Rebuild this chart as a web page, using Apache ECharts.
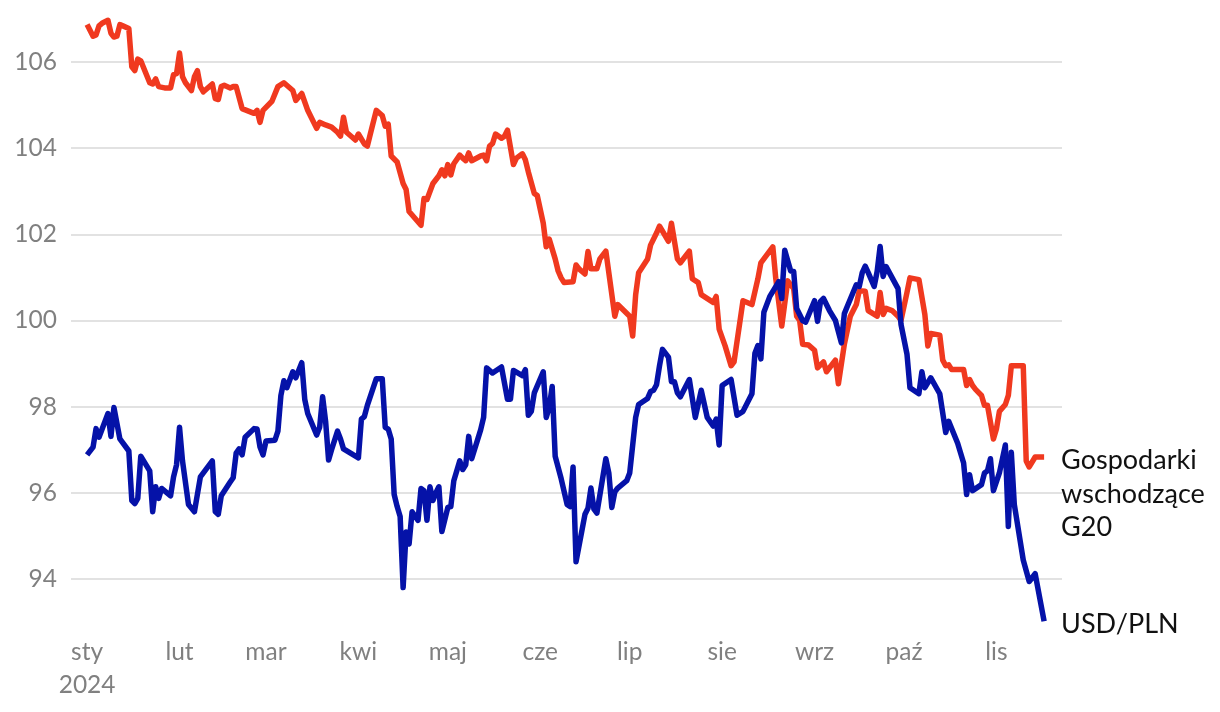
<!DOCTYPE html>
<html>
<head>
<meta charset="utf-8">
<script src="https://cdn.jsdelivr.net/npm/echarts@6/dist/echarts.min.js"></script>
<style>
  html, body { margin: 0; padding: 0; background: #fff; }
  #chart { width: 1220px; height: 712px; }
</style>
</head>
<body>
<div id="chart"></div>
<script>
// dni liczone od 1 stycznia 2024
var monthStarts = [0, 31, 60, 91, 121, 152, 182, 213, 244, 274, 305];
var monthNames = ['sty\n2024', 'lut', 'mar', 'kwi', 'maj', 'cze', 'lip', 'sie', 'wrz', 'paź', 'lis'];
var yTicks = [94, 96, 98, 100, 102, 104, 106];

// Gospodarki wschodzące G20
var emDays = [0, 2, 3, 4, 5, 7, 8, 9, 10, 11, 12, 14, 15, 16, 17, 18, 21, 22, 23, 24, 26, 28, 29, 30, 31, 32, 33, 35, 36, 37, 38, 39, 42, 43, 44, 45, 46, 48, 49, 50, 52, 56, 57, 58, 59, 62, 64, 66, 69, 70, 72, 74, 77, 78, 80, 82, 84, 85, 86, 87, 90, 91, 93, 94, 95, 97, 99, 100, 101, 102, 104, 106, 107, 108, 112, 113, 114, 116, 118, 119, 120, 121, 122, 123, 125, 126, 127, 128, 129, 132, 133, 134, 135, 136, 137, 139, 140, 141, 143, 144, 146, 147, 148, 150, 151, 153, 154, 155, 157, 158, 159, 160, 163, 164, 165, 167, 168, 169, 171, 172, 174, 177, 178, 182, 183, 184, 185, 188, 189, 191, 192, 195, 196, 198, 199, 202, 203, 205, 206, 210, 211, 212, 214, 216, 217, 220, 223, 225, 226, 230, 231, 233, 235, 237, 238, 239, 240, 242, 244, 245, 247, 248, 251, 252, 254, 256, 258, 259, 261, 262, 265, 266, 267, 268, 270, 272, 273, 275, 276, 279, 281, 282, 283, 286, 287, 288, 289, 290, 294, 295, 296, 297, 298, 300, 301, 302, 304, 305, 306, 308, 309, 310, 314, 315, 316, 318, 321];
var emValues = [106.87, 106.60, 106.63, 106.84, 106.90, 106.97, 106.67, 106.58, 106.60, 106.87, 106.84, 106.78, 105.89, 105.80, 106.07, 106.03, 105.52, 105.49, 105.61, 105.43, 105.40, 105.40, 105.71, 105.73, 106.21, 105.66, 105.52, 105.34, 105.66, 105.80, 105.43, 105.31, 105.49, 105.15, 105.13, 105.43, 105.46, 105.40, 105.43, 105.43, 104.92, 104.81, 104.88, 104.60, 104.88, 105.09, 105.43, 105.52, 105.34, 105.11, 105.27, 104.88, 104.46, 104.60, 104.54, 104.49, 104.37, 104.28, 104.72, 104.37, 104.19, 104.33, 104.10, 104.05, 104.33, 104.88, 104.76, 104.51, 104.56, 103.82, 103.68, 103.18, 103.04, 102.53, 102.21, 102.83, 102.81, 103.18, 103.36, 103.50, 103.36, 103.62, 103.38, 103.64, 103.84, 103.77, 103.71, 103.89, 103.71, 103.82, 103.84, 103.71, 104.05, 104.11, 104.33, 104.23, 104.28, 104.42, 103.62, 103.77, 103.87, 103.73, 103.45, 102.95, 102.90, 102.26, 101.71, 101.89, 101.43, 101.15, 100.99, 100.88, 100.90, 101.29, 101.20, 101.08, 101.60, 101.20, 101.20, 101.43, 101.61, 100.10, 100.37, 100.10, 99.64, 100.60, 101.11, 101.43, 101.75, 102.03, 102.19, 101.84, 102.26, 101.43, 101.34, 101.61, 100.97, 100.88, 100.60, 100.42, 100.56, 99.80, 99.41, 98.95, 99.04, 100.46, 100.37, 100.97, 101.34, 101.71, 100.97, 99.87, 100.92, 100.74, 100.10, 100.00, 99.45, 99.43, 99.31, 98.90, 99.04, 98.81, 99.08, 98.53, 99.45, 100.10, 100.37, 100.69, 100.68, 100.23, 100.10, 100.65, 100.14, 100.28, 100.23, 100.10, 100.00, 100.65, 100.99, 100.95, 100.14, 99.41, 99.70, 99.66, 99.08, 98.95, 98.97, 98.86, 98.86, 98.49, 98.63, 98.49, 98.40, 98.26, 98.03, 98.03, 97.25, 97.48, 97.89, 98.05, 98.26, 98.95, 98.95, 96.74, 96.60, 96.83, 96.83];

// USD/PLN
var usdDays = [0, 2, 3, 4, 7, 8, 9, 11, 14, 15, 16, 17, 18, 21, 22, 23, 24, 25, 28, 29, 30, 31, 32, 34, 36, 38, 42, 43, 44, 45, 48, 49, 50, 51, 52, 53, 56, 57, 58, 59, 60, 63, 64, 65, 66, 67, 69, 70, 72, 73, 74, 77, 78, 79, 80, 81, 82, 84, 85, 86, 91, 92, 93, 94, 97, 99, 100, 101, 102, 103, 104, 105, 106, 107, 108, 109, 111, 112, 113, 114, 115, 116, 117, 118, 119, 121, 122, 123, 125, 126, 127, 128, 129, 132, 133, 134, 136, 139, 141, 142, 143, 146, 147, 148, 149, 150, 153, 154, 155, 156, 157, 159, 161, 162, 163, 164, 167, 168, 169, 170, 171, 174, 175, 176, 177, 178, 181, 182, 184, 185, 188, 189, 190, 191, 192, 193, 195, 196, 197, 198, 199, 202, 204, 206, 208, 210, 211, 212, 213, 216, 218, 220, 223, 224, 225, 226, 227, 229, 232, 233, 234, 236, 237, 238, 240, 241, 244, 245, 246, 247, 249, 251, 253, 254, 255, 258, 259, 260, 261, 262, 264, 265, 266, 267, 268, 272, 273, 275, 276, 279, 280, 281, 283, 286, 288, 289, 292, 294, 295, 296, 297, 300, 301, 302, 303, 304, 306, 308, 309, 310, 311, 314, 316, 318, 321];
var usdValues = [96.88, 97.06, 97.49, 97.29, 97.84, 97.31, 97.98, 97.25, 96.97, 95.82, 95.75, 95.87, 96.85, 96.51, 95.56, 96.14, 95.87, 96.10, 95.93, 96.37, 96.65, 97.52, 96.74, 95.73, 95.56, 96.37, 96.74, 95.56, 95.50, 95.93, 96.25, 96.35, 96.92, 97.02, 96.88, 97.29, 97.49, 97.48, 97.06, 96.88, 97.20, 97.22, 97.43, 98.26, 98.60, 98.44, 98.81, 98.67, 99.02, 98.17, 97.84, 97.34, 97.52, 98.23, 97.66, 96.76, 97.00, 97.43, 97.25, 97.02, 96.81, 97.71, 97.77, 98.03, 98.65, 98.65, 97.52, 97.48, 97.25, 95.96, 95.68, 95.45, 93.80, 95.09, 94.81, 95.56, 95.36, 96.10, 96.05, 95.36, 96.14, 95.82, 96.00, 96.14, 95.10, 95.66, 95.68, 96.28, 96.74, 96.54, 96.65, 97.31, 96.79, 97.46, 97.75, 98.90, 98.78, 98.92, 98.17, 98.17, 98.84, 98.72, 98.86, 97.80, 97.89, 98.32, 98.81, 97.75, 97.98, 98.47, 96.85, 96.33, 95.73, 95.68, 96.60, 94.40, 95.50, 95.64, 96.11, 95.62, 95.53, 96.79, 96.46, 95.66, 96.02, 96.11, 96.28, 96.46, 97.75, 98.05, 98.19, 98.35, 98.38, 98.51, 98.95, 99.33, 99.15, 98.58, 98.58, 98.32, 98.23, 98.63, 97.75, 98.38, 97.75, 97.55, 97.71, 97.11, 98.49, 98.63, 97.80, 97.89, 98.30, 99.24, 99.42, 99.11, 100.19, 100.56, 100.90, 100.51, 101.63, 101.15, 101.14, 100.28, 100.00, 99.96, 100.46, 99.98, 100.44, 100.51, 100.23, 100.00, 99.48, 100.16, 100.33, 100.83, 100.79, 101.11, 101.26, 101.11, 100.79, 101.14, 101.72, 101.02, 101.25, 100.74, 99.91, 99.22, 98.44, 98.30, 98.81, 98.44, 98.67, 98.30, 97.40, 97.66, 97.15, 96.69, 95.96, 96.42, 96.05, 96.19, 96.46, 96.51, 96.79, 96.05, 96.46, 97.11, 95.22, 96.94, 95.73, 94.44, 93.94, 94.12, 93.02];

function pairs(days, values) {
  return days.map(function (d, i) { return [d, values[i]]; });
}

var chart = echarts.init(document.getElementById('chart'));
var labelFont = 'Lato, "Noto Sans", sans-serif';

chart.setOption({
  animation: false,
  backgroundColor: '#ffffff',
  grid: {
    left: 71,
    right: 158,
    top: 19,
    bottom: 90
  },
  xAxis: {
    type: 'value',
    min: -5.4,
    max: 327,
    axisLine: { show: false },
    axisTick: { show: false },
    splitLine: { show: false },
    axisLabel: {
      customValues: monthStarts,
      formatter: function (val) {
        var i = monthStarts.indexOf(val);
        return i >= 0 ? monthNames[i] : '';
      },
      color: '#808080',
      fontFamily: labelFont,
      fontSize: 24.5,
      lineHeight: 33,
      margin: 14
    }
  },
  yAxis: {
    type: 'value',
    min: 93,
    max: 107,
    axisLine: { show: false },
    axisTick: { show: false, customValues: yTicks },
    axisLabel: {
      customValues: yTicks,
      color: '#808080',
      fontFamily: labelFont,
      fontSize: 24.5,
      margin: 14
    },
    splitLine: {
      show: true,
      lineStyle: { color: '#e2e2e2', width: 2 }
    }
  },
  series: [
    {
      name: 'Gospodarki wschodzące G20',
      type: 'line',
      data: pairs(emDays, emValues),
      showSymbol: false,
      lineStyle: { color: '#f0391f', width: 5.5, join: 'round' },
      itemStyle: { color: '#f0391f' },
      endLabel: {
        show: true,
        formatter: 'Gospodarki\nwschodzące\nG20',
        color: '#111111',
        fontFamily: labelFont,
        fontSize: 27,
        lineHeight: 33.5,
        distance: 17,
        offset: [0, 37]
      }
    },
    {
      name: 'USD/PLN',
      type: 'line',
      data: pairs(usdDays, usdValues),
      showSymbol: false,
      lineStyle: { color: '#0512a8', width: 5.5, join: 'round' },
      itemStyle: { color: '#0512a8' },
      endLabel: {
        show: true,
        formatter: 'USD/PLN',
        color: '#111111',
        fontFamily: labelFont,
        fontSize: 27,
        distance: 17,
        offset: [0, 3]
      }
    }
  ]
});
</script>
</body>
</html>
